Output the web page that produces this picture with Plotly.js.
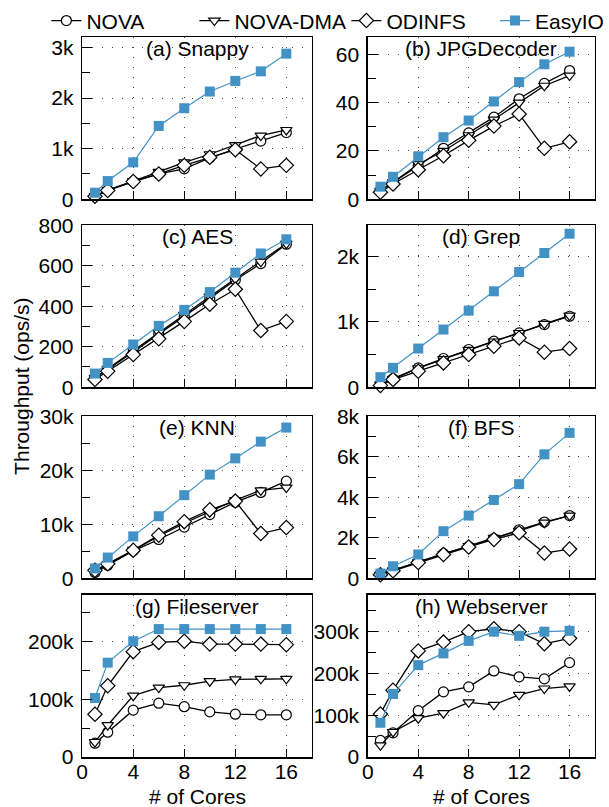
<!DOCTYPE html>
<html><head><meta charset="utf-8">
<script src="https://cdn.plot.ly/plotly-3.0.1.min.js"></script>
<style>html,body{margin:0;padding:0;background:#fff}#chart{width:609px;height:807px}</style>
</head><body><div id="chart"></div>
<script>
// ---------- data ----------
const cores = [1, 2, 4, 6, 8, 10, 12, 14, 16];
const seriesNames = ['NOVA', 'NOVA-DMA', 'ODINFS', 'EasyIO'];
const panelTitles = ['(a) Snappy', '(b) JPGDecoder', '(c) AES', '(d) Grep',
                     '(e) KNN', '(f) BFS', '(g) Fileserver', '(h) Webserver'];
const xTitle = '# of Cores';
const yTitle = 'Throughput (ops/s)';

const snappyNOVA    = [60, 175, 350, 500, 600, 820, 990, 1150, 1320];
const snappyNOVADMA = [60, 180, 360, 540, 730, 890, 1070, 1260, 1370];
const snappyODINFS  = [60, 175, 350, 500, 670, 830, 980, 600, 670];
const snappyEasyIO  = [130, 360, 730, 1450, 1800, 2130, 2340, 2530, 2880];

const jpgNOVA    = [3.6, 7, 13.8, 21.1, 27.5, 34, 41.6, 48, 53.3];
const jpgNOVADMA = [3.5, 7, 14.5, 20, 26.5, 33, 40, 47, 51.2];
const jpgODINFS  = [2.9, 6.3, 12.2, 18, 24.4, 30.3, 35.3, 21.1, 23.8];
const jpgEasyIO  = [5.2, 9.3, 17.8, 25.7, 32.6, 40.5, 48.5, 55.9, 61.1];

const aesNOVA    = [46, 87, 174, 262, 349, 439, 530, 611, 707];
const aesNOVADMA = [46, 90, 180, 270, 358, 448, 535, 620, 710];
const aesODINFS  = [38, 79, 161, 239, 325, 410, 484, 280, 325];
const aesEasyIO  = [67, 120, 211, 303, 382, 470, 566, 661, 731];

const grepNOVA    = [41, 128, 296, 439, 577, 704, 832, 959, 1087];
const grepNOVADMA = [41, 128, 290, 430, 570, 700, 830, 970, 1097];
const grepODINFS  = [26, 117, 245, 372, 500, 628, 755, 536, 592];
const grepEasyIO  = [153, 296, 592, 883, 1173, 1469, 1765, 2056, 2352];

const knnNOVA    = [1100, 2450, 5100, 7200, 9500, 11800, 14100, 15900, 18000];
const knnNOVADMA = [1300, 2600, 5300, 7800, 10200, 12300, 14500, 16300, 16800];
const knnODINFS  = [1500, 2700, 5200, 8000, 10500, 12700, 14300, 8300, 9400];
const knnEasyIO  = [1840, 3860, 7780, 11500, 15400, 19200, 22200, 25300, 27900];

const bfsNOVA    = [200, 400, 820, 1220, 1580, 1960, 2400, 2780, 3100];
const bfsNOVADMA = [200, 400, 800, 1200, 1600, 2000, 2350, 2750, 3100];
const bfsODINFS  = [180, 380, 780, 1180, 1550, 1920, 2250, 1250, 1450];
const bfsEasyIO  = [240, 600, 1180, 2330, 3100, 3870, 4650, 6120, 7180];

const fsNOVA    = [24000, 43000, 81000, 93000, 87000, 78000, 74000, 73000, 73000];
const fsNOVADMA = [26000, 55000, 106000, 120000, 124000, 131000, 134000, 135000, 135000];
const fsODINFS  = [74000, 123000, 182000, 198000, 200000, 195000, 195000, 195000, 194000];
const fsEasyIO  = [102000, 163000, 200000, 221000, 221000, 221000, 221000, 221000, 221000];

const wsNOVA    = [40000, 58000, 111000, 156000, 168000, 206000, 192000, 187000, 226000];
const wsNOVADMA = [28000, 60000, 93000, 105000, 131000, 125000, 149000, 164000, 169000];
const wsODINFS  = [103000, 160000, 254000, 275000, 300000, 307000, 300000, 271000, 284000];
const wsEasyIO  = [82000, 151000, 220000, 248000, 278000, 300000, 290000, 300000, 302000];

const panelSeries = [
  [snappyNOVA, snappyNOVADMA, snappyODINFS, snappyEasyIO],
  [jpgNOVA, jpgNOVADMA, jpgODINFS, jpgEasyIO],
  [aesNOVA, aesNOVADMA, aesODINFS, aesEasyIO],
  [grepNOVA, grepNOVADMA, grepODINFS, grepEasyIO],
  [knnNOVA, knnNOVADMA, knnODINFS, knnEasyIO],
  [bfsNOVA, bfsNOVADMA, bfsODINFS, bfsEasyIO],
  [fsNOVA, fsNOVADMA, fsODINFS, fsEasyIO],
  [wsNOVA, wsNOVADMA, wsODINFS, wsEasyIO]
];

// y-axis extents and tick steps per panel
const yMax   = [3200, 67, 800, 2480, 30000, 8000, 280000, 388000];
const yDtick = [1000, 20, 200, 1000, 10000, 2000, 100000, 100000];
const yMinor = [500, 10, 100, 500, 5000, 1000, 50000, 50000];

// ---------- styling ----------
const W = 609, H = 807;
const FONT = 'Liberation Sans, Arial, Helvetica, sans-serif';
const BLUE = '#4292c6';
const colPx = [[83.3, 316.0], [372.7, 602.7]];
const rowPx = [[31.7, 194.7], [221.0, 384.0], [413.3, 576.7], [593.3, 756.7]];
const xd = p => [p[0] / W, p[1] / W];
const yd = p => [1 - p[1] / H, 1 - p[0] / H];

const markerStyles = [
  {symbol: 'circle', size: 10, color: 'white', line: {color: 'black', width: 1.2}},
  {symbol: 'triangle-down', size: 10, color: 'white', line: {color: 'black', width: 1.2}},
  {symbol: 'diamond', size: 11, color: 'white', line: {color: 'black', width: 1.2}},
  {symbol: 'square', size: 10, color: BLUE, line: {color: BLUE, width: 0}}
];
const lineStyles = [
  {color: 'black', width: 1.3}, {color: 'black', width: 1.3},
  {color: 'black', width: 1.3}, {color: BLUE, width: 1.2}
];
const legendIds = ['legend', 'legend2', 'legend3', 'legend4'];
const legendX = [47, 197, 351, 502];

const traces = [];
const layout = {
  width: W, height: H,
  margin: {l: 0, r: 0, t: 0, b: 0},
  paper_bgcolor: 'white', plot_bgcolor: 'white',
  font: {family: FONT, size: 21, color: 'black'},
  showlegend: true,
  annotations: []
};

legendIds.forEach((id, i) => {
  layout[id] = {
    x: legendX[i] / W, y: 1 - 15 / H, xanchor: 'left', yanchor: 'middle',
    orientation: 'h', bgcolor: 'rgba(0,0,0,0)', borderwidth: 0,
    font: {family: FONT, size: 21, color: 'black'}
  };
});

panelSeries.forEach((series, p) => {
  const r = Math.floor(p / 2), c = p % 2;
  const ax = p === 0 ? '' : String(p + 1);
  series.forEach((vals, s) => {
    traces.push({
      type: 'scatter', mode: 'lines+markers',
      x: cores, y: vals, name: seriesNames[s],
      xaxis: 'x' + ax, yaxis: 'y' + ax,
      line: lineStyles[s], marker: markerStyles[s],
      cliponaxis: false,
      showlegend: p === 0, legend: legendIds[s]
    });
  });
  const bottom = r === 3;
  layout['xaxis' + ax] = {
    domain: xd(colPx[c]), range: [0, 18], anchor: 'y' + ax,
    tick0: 0, dtick: 4, ticks: 'inside', ticklen: 8, tickwidth: 1, tickcolor: 'black',
    showticklabels: bottom, ticklabelstandoff: -5,
    tickfont: {family: FONT, size: 21, color: 'black'},
    showgrid: true, gridcolor: '#444', gridwidth: 1, griddash: '1px,9px',
    showline: true, mirror: true, linecolor: 'black', linewidth: 1.5,
    zeroline: false, fixedrange: true,
    title: {text: ''}
  };
  layout['yaxis' + ax] = {
    domain: yd(rowPx[r]), range: [0, yMax[p]], anchor: 'x' + ax,
    tick0: 0, dtick: yDtick[p], tickformat: '~s',
    ticks: 'inside', ticklen: 10, tickwidth: 1, tickcolor: 'black',
    minor: {dtick: yMinor[p], ticks: 'inside', ticklen: 8, tickcolor: 'black', showgrid: false},
    ticklabelstandoff: 3,
    tickfont: {family: FONT, size: 21, color: 'black'},
    showgrid: true, gridcolor: '#444', gridwidth: 1, griddash: '1px,9px',
    showline: true, mirror: true, linecolor: 'black', linewidth: 1.5,
    zeroline: false, fixedrange: true
  };
  layout.annotations.push({
    text: panelTitles[p], xref: 'paper', yref: 'paper',
    x: (colPx[c][0] + colPx[c][1]) / 2 / W, y: 1 - (rowPx[r][0] + 11.5) / H,
    xanchor: 'center', yanchor: 'middle', showarrow: false,
    font: {family: FONT, size: 21, color: 'black'}
  });
  if (bottom) {
    layout.annotations.push({
      text: xTitle, xref: 'paper', yref: 'paper',
      x: (colPx[c][0] + colPx[c][1]) / 2 / W, y: 1 - 796 / H,
      xanchor: 'center', yanchor: 'middle', showarrow: false,
      font: {family: FONT, size: 21, color: 'black'}
    });
  }
});

layout.annotations.push({
  text: yTitle, xref: 'paper', yref: 'paper',
  x: 21 / W, y: 1 - 383 / H, xanchor: 'center', yanchor: 'middle',
  textangle: -90, showarrow: false,
  font: {family: FONT, size: 21, color: 'black'}
});

Plotly.newPlot('chart', traces, layout, {staticPlot: true, displayModeBar: false});
</script>
</body></html>
